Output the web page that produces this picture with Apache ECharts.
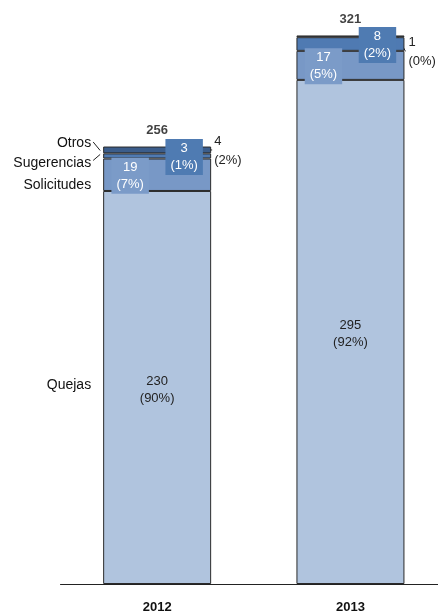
<!DOCTYPE html>
<html>
<head>
<meta charset="utf-8">
<script src="https://cdn.jsdelivr.net/npm/echarts@6/dist/echarts.min.js"></script>
<style>
html,body{margin:0;padding:0;background:#fff;}
#c{width:438px;height:614px;}
</style>
</head>
<body>
<div id="c"></div>
<script>
const categories = ['2012', '2013'];
const quejas = [230, 295];
const solicitudes = [19, 17];
const sugerencias = [3, 8];
const otros = [4, 1];
const totals = [256, 321];
const quejasPct = [90, 92];
const solicitudesPct = [7, 5];
const sugerenciasPct = [1, 2];
const otrosPct = [2, 0];
const seriesNames = ['Quejas', 'Solicitudes', 'Sugerencias', 'Otros'];

const FONT = "'Liberation Sans', Arial, sans-serif";
const FS = 13, LH = 17;
const C_Q = '#b0c4de', C_S = '#7898c6', C_G = '#4f7ab2', C_O = '#3b5d8b';
const BORDER = '#2a2a2a';

const chart = echarts.init(document.getElementById('c'), null, {renderer: 'canvas'});

function pctFmt(arr) {
  return p => p.value + '\n(' + arr[p.dataIndex] + '%)';
}

const option = {
  animation: false,
  backgroundColor: '#fff',
  textStyle: {fontFamily: FONT},
  grid: {left: 60.5, width: 386.6, top: 3, bottom: 30, containLabel: false, outerBoundsMode: 'none'},
  xAxis: {
    type: 'category',
    data: categories,
    axisLine: {lineStyle: {color: '#222', width: 1}},
    axisTick: {show: false},
    axisLabel: {fontFamily: FONT, fontSize: 13, fontWeight: 'bold', color: '#111', margin: 17}
  },
  yAxis: {type: 'value', min: 0, max: 340, show: false, splitLine: {show: false}},
  series: [
    {
      name: seriesNames[0], type: 'bar', stack: 's', barWidth: 108,
      data: quejas,
      itemStyle: {color: C_Q, borderColor: BORDER, borderWidth: 1},
      label: {show: true, position: 'inside', offset: [0, 2], color: '#222', fontFamily: FONT, fontSize: FS, lineHeight: LH,
        formatter: pctFmt(quejasPct)}
    },
    {
      name: seriesNames[1], type: 'bar', stack: 's', barWidth: 108,
      data: solicitudes,
      itemStyle: {color: C_S, borderColor: BORDER, borderWidth: 1},
      label: {show: true, position: 'inside', offset: [-27, 1], color: '#fff', fontFamily: FONT, fontSize: FS, lineHeight: LH,
        backgroundColor: '#7b9bc8', padding: [1, 5], formatter: pctFmt(solicitudesPct)}
    },
    {
      name: seriesNames[2], type: 'bar', stack: 's', barWidth: 108,
      data: sugerencias,
      itemStyle: {color: C_G, borderColor: BORDER, borderWidth: 1},
      label: {show: true, position: 'inside', offset: [27, 1], color: '#fff', fontFamily: FONT, fontSize: FS, lineHeight: LH,
        backgroundColor: '#4f7bb2', padding: [1, 5], formatter: pctFmt(sugerenciasPct)}
    },
    {
      name: seriesNames[3], type: 'bar', stack: 's', barWidth: 108,
      data: otros.map((v, i) => ({
        value: v,
        label: i === 0 ? {offset: [0, 1], distance: 3} : {offset: [0, 16], distance: 4}
      })),
      itemStyle: {color: C_O, borderColor: BORDER, borderWidth: 1},
      label: {show: true, position: 'right', color: '#222', fontFamily: FONT, fontSize: FS, lineHeight: 19,
        formatter: pctFmt(otrosPct)}
    },
    {
      name: 'Total', type: 'scatter', data: totals, symbolSize: 0, silent: true,
      label: {show: true, position: 'top', distance: 10, color: '#111', fontFamily: FONT, fontSize: 13, fontWeight: 'bold',
        formatter: p => String(p.value)}
    }
  ]
};
chart.setOption(option);

// annotations derived from the data through the chart's own scales
function px(ci, v) { return chart.convertToPixel({seriesIndex: 0}, [ci, v]); }
const half = 54;
const g = [];
{
  const ci = 0;
  const cx = px(ci, 0)[0];
  const barL = cx - half;
  const segC = (lo, hi) => (px(ci, lo)[1] + px(ci, hi)[1]) / 2;
  const q0 = 0, q1 = quejas[ci], s1 = q1 + solicitudes[ci], g1 = s1 + sugerencias[ci], o1 = g1 + otros[ci];
  const yQ = segC(q0, q1), yS = segC(q1, s1), yG = segC(s1, g1), yO = segC(g1, o1);
  const txt = (t, y) => ({type: 'text', x: barL - 12, y: y, style: {text: t, align: 'right', verticalAlign: 'middle',
    fill: '#111', font: '14px ' + FONT}});
  g.push(txt(seriesNames[3], yO - 7));
  g.push(txt(seriesNames[2], yG + 7));
  g.push(txt(seriesNames[1], yS + 10.5));
  g.push(txt(seriesNames[0], yQ - 2));
  const ln = (x1, y1, x2, y2) => ({type: 'line', shape: {x1, y1, x2, y2}, style: {stroke: '#222', lineWidth: 1}});
  g.push(ln(barL - 10, yO - 8, barL - 3, yO + 0.5));
  g.push(ln(barL - 10, yG + 4.5, barL - 3, yG - 1.5));
  const barR = cx + half;
  g.push(ln(barR - 6, yO, barR + 1, yO));
}
{
  const ci = 1;
  const cx = px(ci, 0)[0];
  const barR = cx + half;
  const lo = quejas[ci] + solicitudes[ci] + sugerencias[ci];
  const yO = (px(ci, lo)[1] + px(ci, lo + otros[ci])[1]) / 2;
  g.push({type: 'line', shape: {x1: barR - 7, y1: yO, x2: barR + 1, y2: yO + 15}, style: {stroke: '#222', lineWidth: 1}});
}
chart.setOption({graphic: g});
</script>
</body>
</html>
